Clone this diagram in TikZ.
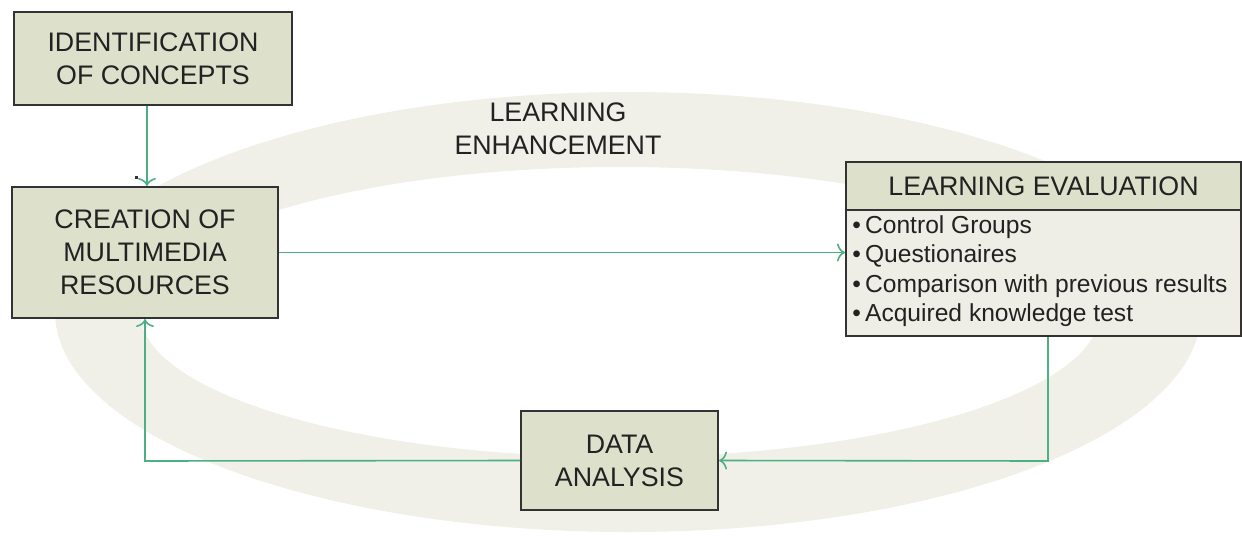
\documentclass[tikz,border=0pt]{standalone}
\usepackage{fontspec}
\setmainfont{Liberation Sans}
\usetikzlibrary{arrows.meta}
\definecolor{ringc}{HTML}{F0F0E8}
\definecolor{boxfill}{HTML}{DDE0CB}
\definecolor{bodyfill}{HTML}{EEEEE6}
\definecolor{edgec}{HTML}{333333}
\definecolor{arrc}{HTML}{4DAF86}
\definecolor{txtc}{HTML}{222222}
\tikzset{
  stepbox/.style={draw=edgec, line width=1pt, fill=boxfill, inner sep=0pt,
    text=txtc, align=center, font=\fontsize{13.4}{16.5}\selectfont},
  flow/.style={draw=arrc, line width=0.8pt, -{To[length=4pt,width=9pt]}},
  bodytxt/.style={text=txtc, inner sep=0pt, anchor=west, font=\fontsize{12.3}{14}\selectfont},
}
\begin{document}
\begin{tikzpicture}[x=0.5pt,y=-0.5pt]
\useasboundingbox (0,0) rectangle (1242,536);
% background ring
\fill[ringc, even odd rule] (628,312) ellipse [x radius=573, y radius=220]
  (620,312) ellipse [x radius=480, y radius=145];
\node[text=txtc, align=center, font=\fontsize{13.4}{16.5}\selectfont] (enh) at (558,129) {LEARNING\\ENHANCEMENT};
% boxes
\node[stepbox, minimum width=139pt, minimum height=46.5pt] (ident) at (153,58.5) {IDENTIFICATION\\OF CONCEPTS};
\node[stepbox, minimum width=133pt, minimum height=65.5pt] (creat) at (145,252.5) {CREATION OF\\MULTIMEDIA\\RESOURCES};
\node[stepbox, minimum width=98.5pt, minimum height=49.5pt] (data) at (619.5,460.5) {DATA\\ANALYSIS};
% learning evaluation
\node[draw=edgec, line width=1pt, fill=bodyfill, minimum width=197.5pt, minimum height=87pt, inner sep=0pt] (leval) at (1043.5,249) {};
\node[stepbox, minimum width=197.5pt, minimum height=24pt, anchor=north] (lehead) at (leval.north) {LEARNING EVALUATION};
\node[bodytxt] (b1) at (852,227) {\textbullet\,Control Groups};
\node[bodytxt] (b2) at (852,256) {\textbullet\,Questionaires};
\node[bodytxt] (b3) at (852,286) {\textbullet\,Comparison with previous results};
\node[bodytxt] (b4) at (852,315) {\textbullet\,Acquired knowledge test};
% stray dot
\fill[black!80] (135,176) rectangle (138,179);
% connectors
\coordinate (c1) at (1048,461);
\coordinate (c2) at (145,461);
\draw[flow] (ident.south -| 147,0) -- (creat.north -| 147,0);
\draw[flow] (creat.east) -- (leval.west |- creat.east);
\draw[flow] (leval.south -| 1048,0) -- (c1) -- (data.east);
\draw[flow] (data.west) -- (c2) -- (creat.south);
\end{tikzpicture}
\end{document}
